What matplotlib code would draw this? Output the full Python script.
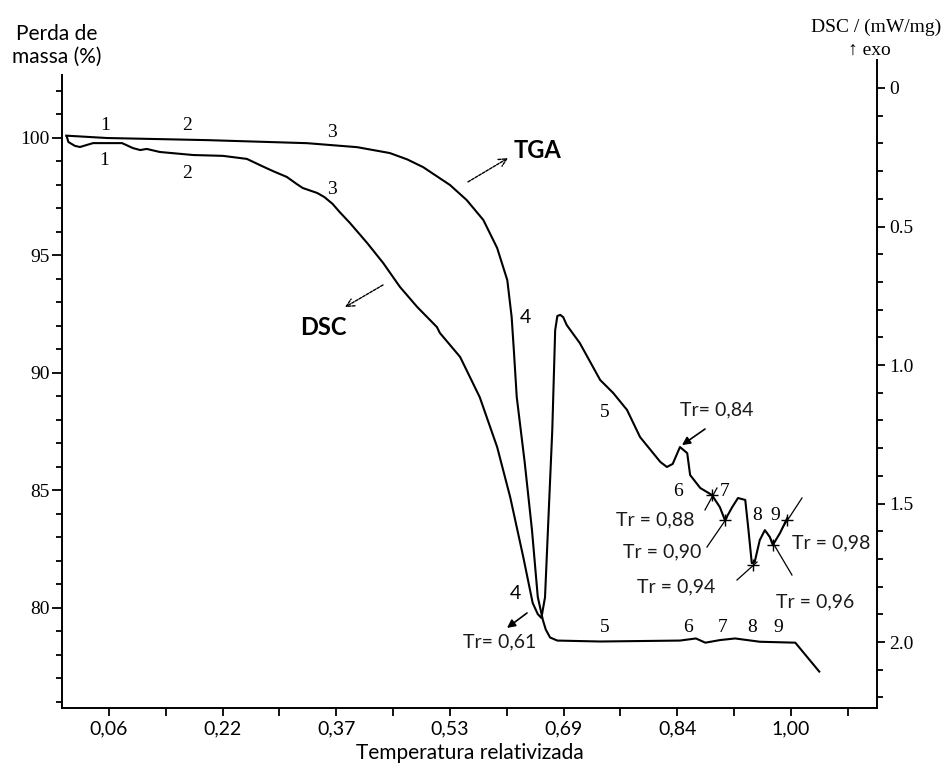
import matplotlib
matplotlib.use("Agg")
import matplotlib.pyplot as plt

# TGA curve (perda de massa, %), left axis
tga_x = [0.001, 0.057, 0.195, 0.333, 0.402, 0.447, 0.471, 0.493, 0.530, 0.553,
         0.576, 0.595, 0.609, 0.615, 0.618, 0.622, 0.633, 0.643, 0.651, 0.658,
         0.662, 0.668, 0.678, 0.737, 0.792, 0.847, 0.869, 0.882, 0.902, 0.923,
         0.957, 1.006, 1.039]
tga_y = [100.09, 99.99, 99.90, 99.77, 99.60, 99.35, 99.08, 98.75, 97.99, 97.35,
         96.50, 95.31, 93.94, 92.37, 90.97, 88.97, 86.18, 83.31, 80.46, 79.48,
         79.07, 78.73, 78.60, 78.56, 78.58, 78.60, 78.69, 78.51, 78.62, 78.69,
         78.55, 78.51, 77.28]

# DSC curve (mW/mg, exo para cima), right axis
dsc_x = [0.002, 0.004, 0.013, 0.020, 0.038, 0.057, 0.078, 0.093, 0.103, 0.112,
         0.130, 0.176, 0.217, 0.250, 0.271, 0.286, 0.305, 0.319, 0.327, 0.347,
         0.357, 0.368, 0.378, 0.392, 0.416, 0.438, 0.461, 0.485, 0.512,
         0.516, 0.544, 0.571, 0.595, 0.613, 0.631, 0.644, 0.651, 0.656, 0.661,
         0.665, 0.671, 0.675, 0.678, 0.682, 0.686, 0.691, 0.709, 0.737, 0.755,
         0.774, 0.792, 0.810, 0.820, 0.829, 0.837, 0.847, 0.857, 0.861, 0.875,
         0.891, 0.902, 0.909, 0.919, 0.927, 0.937, 0.941, 0.946, 0.950, 0.957,
         0.964, 0.971, 0.975, 0.985, 0.995]
dsc_y = [0.177, 0.195, 0.209, 0.213, 0.199, 0.199, 0.199, 0.217, 0.224, 0.220,
         0.231, 0.242, 0.245, 0.256, 0.282, 0.300, 0.321, 0.347, 0.361, 0.379,
         0.394, 0.418, 0.448, 0.487, 0.560, 0.632, 0.718, 0.791, 0.863,
         0.884, 0.971, 1.116, 1.296, 1.477, 1.693, 1.859, 1.899, 1.913, 1.838,
         1.596, 1.235, 0.874, 0.823, 0.819, 0.827, 0.856, 0.921, 1.054, 1.101,
         1.162, 1.260, 1.318, 1.350, 1.368, 1.357, 1.296, 1.318, 1.397, 1.444,
         1.469, 1.513, 1.560, 1.513, 1.480, 1.487, 1.585, 1.715, 1.711, 1.632,
         1.596, 1.621, 1.650, 1.606, 1.552]

x_tick_labels = ["0,06", "0,22", "0,37", "0,53", "0,69", "0,84", "1,00"]
left_ticks = [80, 85, 90, 95, 100]
right_ticks = [0, 0.5, 1.0, 1.5, 2.0]
right_tick_labels = ["0", "0.5", "1.0", "1.5", "2.0"]

# etapas numeradas (texto, x, y em DSC)
stage_labels = [("1", 0.0545, 0.134), ("1", 0.053, 0.260), ("2", 0.1675, 0.134),
                ("2", 0.1675, 0.307), ("3", 0.3674, 0.159), ("3", 0.3674, 0.365),
                ("5", 0.7437, 1.170), ("6", 0.8443, 1.458), ("7", 0.9091, 1.458),
                ("8", 0.9532, 1.542), ("9", 0.978, 1.542), ("5", 0.7437, 1.949),
                ("6", 0.858, 1.949), ("7", 0.9063, 1.949), ("8", 0.9463, 1.949),
                ("9", 0.9821, 1.949)]
four_labels = [("4", 0.6334, 0.830), ("4", 0.6196, 1.823)]

# Tr marcados com cruz: texto, posicao texto, linha (x0,y0,x1,y1), cruz
tr_marks = [
    ("Tr = 0,88", (0.8126, 1.560), (0.8815, 1.523, 0.898, 1.444), (0.8911, 1.469)),
    ("Tr = 0,90", (0.8222, 1.675), (0.8842, 1.657, 0.9118, 1.552), (0.9091, 1.560)),
    ("Tr = 0,94", (0.8415, 1.801), (0.9256, 1.776, 0.9532, 1.711), (0.9477, 1.722)),
    ("Tr = 0,96", (1.0331, 1.856), (0.967, 1.606, 1.0014, 1.758), (0.9752, 1.650)),
    ("Tr = 0,98", (1.0552, 1.643), (0.989, 1.585, 1.0152, 1.480), (0.9945, 1.560)),
]
# Tr com seta: texto, posicao texto, cauda, ponta
tr_arrows = [
    ("Tr= 0,61", (0.599, 2.0), (0.6362, 1.895), (0.6086, 1.949)),
    ("Tr= 0,84", (0.8977, 1.162), (0.8815, 1.231), (0.8498, 1.289)),
]

serif = ["Liberation Serif", "DejaVu Serif"]
sans = ["Lato", "DejaVu Sans"]
W, H = 948, 767

fig = plt.figure(figsize=(W / 100, H / 100), dpi=100)
ax = fig.add_axes([62 / W, 59 / H, 815 / W, 648 / H])
ax2 = ax.twinx()

ax.plot(tga_x, tga_y, color="black", lw=1.5, solid_joinstyle="round")
ax2.plot(dsc_x, dsc_y, color="black", lw=1.5, solid_joinstyle="round")

ax.set_xlim(-0.0048, 1.1186)
ax.set_ylim(75.73, 103.31)
ax2.set_ylim(2.238, -0.101)

step = 0.94 / 6
major_x = [0.06 + k * step for k in range(7)]
minor_x = [0.06 + (k + 0.5) * step for k in range(7)]
ax.set_xticks(major_x)
ax.set_xticklabels(x_tick_labels, fontfamily=sans, fontsize=14)
ax.set_xticks(minor_x, minor=True)
ax.tick_params(axis="x", which="both", direction="out", length=6, width=1.3, pad=3)

ax.set_yticks(left_ticks)
ax.set_yticklabels([str(v) for v in left_ticks], fontfamily=serif, fontsize=14)
ax.set_yticks(range(76, 103), minor=True)
ax.tick_params(axis="y", which="major", direction="out", length=7, width=1.3, pad=2)
ax.tick_params(axis="y", which="minor", direction="out", length=4, width=1.3)

ax2.set_yticks(right_ticks)
ax2.set_yticklabels(right_tick_labels, fontfamily=serif, fontsize=14)
ax2.set_yticks([k / 10 for k in range(1, 23) if k % 5], minor=True)
ax2.tick_params(axis="y", which="major", direction="out", length=6, width=1.3, pad=3)
ax2.tick_params(axis="y", which="minor", direction="out", length=4, width=1.3)

for a in (ax, ax2):
    a.spines["top"].set_visible(False)
    for s in a.spines.values():
        s.set_linewidth(1.4)
ax.spines["right"].set_visible(False)
ax2.spines["left"].set_visible(False)
ax2.spines["bottom"].set_visible(False)
ax.spines["left"].set_bounds(75.73, 102.67)

ax.set_xlabel("Temperatura relativizada", fontfamily=sans, fontsize=15, labelpad=4)

fig.text(57 / W, 1 - 40 / H, "Perda de", ha="center", va="baseline",
         fontfamily=sans, fontsize=15)
fig.text(57 / W, 1 - 63 / H, "massa (%)", ha="center", va="baseline",
         fontfamily=sans, fontsize=15)
fig.text(876 / W, 1 - 32 / H, "DSC / (mW/mg)", ha="center", va="baseline",
         fontfamily=serif, fontsize=14)
fig.text(869 / W, 1 - 55 / H, "\u2191 exo", ha="center", va="baseline",
         fontfamily=serif, fontsize=14)

for txt, x, y in stage_labels:
    ax2.text(x, y, txt, ha="center", va="center", fontfamily=serif, fontsize=14)
for txt, x, y in four_labels:
    ax2.text(x, y, txt, ha="center", va="center", fontfamily=sans, fontsize=14)

ax2.text(0.650, 0.224, "TGA", ha="center", va="center", fontfamily=sans,
         fontsize=17, fontweight="bold")
ax2.text(0.355, 0.863, "DSC", ha="center", va="center", fontfamily=sans,
         fontsize=17, fontweight="bold")
ax2.annotate("", xy=(0.61, 0.253), xytext=(0.5548, 0.339),
             arrowprops=dict(arrowstyle="->", lw=1.0, ls=(0, (2, 1)), color="black",
                             shrinkA=0, shrinkB=0, mutation_scale=14))
ax2.annotate("", xy=(0.3853, 0.791), xytext=(0.4377, 0.711),
             arrowprops=dict(arrowstyle="->", lw=1.0, ls=(0, (2, 1)), color="black",
                             shrinkA=0, shrinkB=0, mutation_scale=14))

for txt, (tx, ty), tail, head in tr_arrows:
    ax2.text(tx, ty, txt, ha="center", va="center", fontfamily=sans, fontsize=14,
             color="#1a1a1a")
    ax2.annotate("", xy=head, xytext=tail,
                 arrowprops=dict(arrowstyle="-|>", lw=1.2, color="black",
                                 shrinkA=0, shrinkB=0, mutation_scale=12))

for txt, (tx, ty), (x0, y0, x1, y1), (cx, cy) in tr_marks:
    ax2.text(tx, ty, txt, ha="center", va="center", fontfamily=sans, fontsize=14,
             color="#1a1a1a")
    ax2.plot([x0, x1], [y0, y1], color="black", lw=0.9)
    ax2.plot([cx], [cy], marker="+", ms=8, mew=1.0, color="black")

fig.savefig("out.png", dpi=100)
